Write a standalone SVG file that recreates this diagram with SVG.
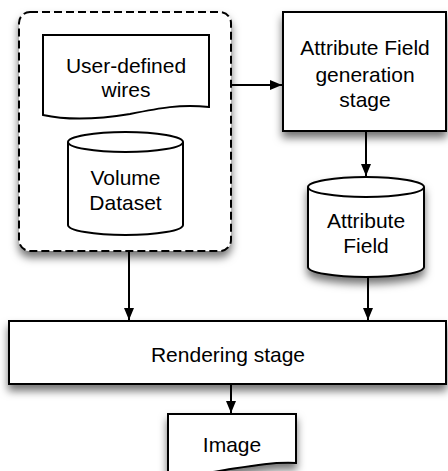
<svg xmlns="http://www.w3.org/2000/svg" width="448" height="471" viewBox="0 0 448 471">
<defs>
<filter id="sh" x="-20%" y="-20%" width="140%" height="150%">
<feDropShadow dx="0" dy="6" stdDeviation="4" flood-color="#000" flood-opacity="0.55"/>
</filter>
<marker id="ah" viewBox="0 0 12 10" refX="12" refY="5" markerWidth="12" markerHeight="10" markerUnits="userSpaceOnUse" orient="auto">
<path d="M0,0 L12,5 L0,10 Z" fill="#000"/>
</marker>
</defs>
<style>
.s{fill:#fff;stroke:#000;stroke-width:2}
.d{fill:#fff;stroke:#000;stroke-width:2;stroke-dasharray:8 4}
.t{font-family:"Liberation Sans",Arial,sans-serif;font-size:21px;fill:#000;text-anchor:middle}
.c{fill:none;stroke:#000;stroke-width:2}
</style>
<rect width="448" height="471" fill="#fff"/>
<g id="container">
<rect class="d" x="19" y="12" width="212" height="239" rx="11" filter="url(#sh)"/>
</g>
<g id="wires">
<path class="s" d="M43,35 L209,35 L209,107 C180,104 160,108 130,114 C100,119 70,121 43,115 Z"/>
<text class="t" x="126" y="73">User-defined</text>
<text class="t" x="126" y="97">wires</text>
</g>
<g id="volume">
<path class="s" d="M68,142 A57.5,10 0 0 1 183,142 L183,225 A57.5,10 0 0 1 68,225 Z"/>
<path class="c" d="M68,142 A57.5,10 0 0 0 183,142"/>
<text class="t" x="125.5" y="185">Volume</text>
<text class="t" x="125.5" y="210">Dataset</text>
</g>
<g id="gen">
<rect class="s" x="283" y="12" width="163" height="119" filter="url(#sh)"/>
<text class="t" x="365" y="55">Attribute Field</text>
<text class="t" x="365" y="82">generation</text>
<text class="t" x="365" y="107">stage</text>
</g>
<g id="field">
<path class="s" d="M308,187 A58,10 0 0 1 424,187 L424,267 A58,10 0 0 1 308,267 Z" filter="url(#sh)"/>
<path class="c" d="M308,187 A58,10 0 0 0 424,187"/>
<text class="t" x="366" y="228">Attribute</text>
<text class="t" x="366" y="253">Field</text>
</g>
<g id="render">
<rect class="s" x="9" y="321" width="437" height="63" filter="url(#sh)"/>
<text class="t" x="228" y="362">Rendering stage</text>
</g>
<g id="image">
<path class="s" d="M168,414 L296,414 L296,463 C270,462 250,466 225,470 C205,474 185,475 168,473 Z" filter="url(#sh)"/>
<text class="t" x="232" y="452">Image</text>
</g>
<g id="connectors">
<line class="c" x1="231" y1="85" x2="282" y2="85" marker-end="url(#ah)"/>
<line class="c" x1="366" y1="131" x2="366" y2="176" marker-end="url(#ah)"/>
<line class="c" x1="129" y1="251" x2="129" y2="320" marker-end="url(#ah)"/>
<line class="c" x1="368" y1="277" x2="368" y2="320" marker-end="url(#ah)"/>
<line class="c" x1="231" y1="384" x2="231" y2="413" marker-end="url(#ah)"/>
</g>
</svg>
